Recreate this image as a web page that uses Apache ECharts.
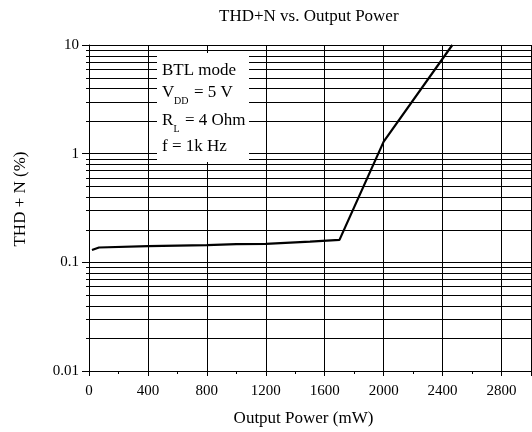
<!DOCTYPE html>
<html>
<head>
<meta charset="utf-8">
<script src="https://cdn.jsdelivr.net/npm/echarts@6/dist/echarts.min.js"></script>
<style>html,body{margin:0;padding:0;background:#fff}#c{width:532px;height:432px}</style>
</head>
<body>
<div id="c"></div>
<script>
var titleText = 'THD+N vs. Output Power';
var xName = 'Output Power (mW)';
var yName = 'THD + N (%)';
var power = [20, 68, 400, 800, 1000, 1200, 1500, 1700, 2000, 2466];
var thdn = [0.130, 0.137, 0.141, 0.144, 0.147, 0.148, 0.155, 0.161, 1.29, 10];
var yMinorGrid = [0.02,0.03,0.04,0.05,0.06,0.07,0.08,0.09,0.2,0.3,0.4,0.5,0.6,0.7,0.8,0.9,2,3,4,5,6,7,8,9];
var noteLines = ['BTL mode', 'V', 'R', 'f = 1k Hz'];

var FONT = 'Liberation Serif';
var NOTE_FONT = '17px "Liberation Serif"';
var SUB_FONT = '10px "Liberation Serif"';
var chart = echarts.init(document.getElementById('c'), null, {renderer: 'canvas'});
var option = {
  animation: false,
  backgroundColor: '#fff',
  title: {
    text: titleText, left: 214, top: 3,
    textStyle: {fontFamily: FONT, fontSize: 17, fontWeight: 'normal', color: '#000'}
  },
  grid: {left: 89, right: 1, top: 45, bottom: 59, containLabel: false},
  xAxis: {
    type: 'value', min: 0, max: 3000, interval: 400,
    name: xName, nameLocation: 'middle', nameGap: 39,
    nameTextStyle: {fontFamily: FONT, fontSize: 17, color: '#000', padding: [0, 13, 0, 0]},
    axisLine: {show: true, onZero: false, lineStyle: {color: '#000', width: 1}},
    axisTick: {show: true, length: 5, lineStyle: {color: '#000'}},
    minorTick: {show: true, splitNumber: 2, length: 3, lineStyle: {color: '#000'}},
    axisLabel: {fontFamily: FONT, fontSize: 15, color: '#000', margin: 13, showMaxLabel: false,
      formatter: function (v) { return String(v); }},
    splitLine: {show: true, lineStyle: {color: '#000', width: 1}}
  },
  yAxis: {
    type: 'log', logBase: 10, min: 0.01, max: 10,
    name: yName, nameLocation: 'middle', nameGap: 60,
    nameTextStyle: {fontFamily: FONT, fontSize: 17, color: '#000', padding: [0, 0, 0, 18]},
    axisLine: {show: true, lineStyle: {color: '#000', width: 1}},
    axisTick: {show: true, length: 7, lineStyle: {color: '#000'}},
    axisLabel: {fontFamily: FONT, fontSize: 15, color: '#000', margin: 10,
      formatter: function (v) { return String(+v.toPrecision(3)); }},
    splitLine: {show: true, lineStyle: {color: '#000', width: 1}}
  },
  series: [
    {
      type: 'custom', silent: true, clip: false, z: 1,
      data: yMinorGrid.map(function (v) { return [0, v]; }),
      renderItem: function (params, api) {
        var cs = params.coordSys;
        var y = Math.round(api.coord([0, api.value(1)])[1]) + 0.5;
        return {
          type: 'line',
          shape: {x1: cs.x - 3, y1: y, x2: cs.x + cs.width, y2: y},
          style: {stroke: '#000', lineWidth: 1}
        };
      }
    },
    {
      type: 'line', data: power.map(function (p, i) { return [p, thdn[i]]; }),
      showSymbol: false, symbol: 'none', z: 5,
      lineStyle: {color: '#000', width: 2.2}
    }
  ],
  graphic: [
    {type: 'rect', z: 10, shape: {x: 157, y: 53, width: 92, height: 109}, style: {fill: '#fff'}},
    {type: 'text', z: 11, x: 162, y: 71, style: {text: noteLines[0], font: NOTE_FONT, fill: '#000', textVerticalAlign: 'middle'}},
    {type: 'text', z: 11, x: 162, y: 93, style: {text: noteLines[1], font: NOTE_FONT, fill: '#000', textVerticalAlign: 'middle'}},
    {type: 'text', z: 11, x: 174, y: 101, style: {text: 'DD', font: SUB_FONT, fill: '#000', textVerticalAlign: 'middle'}},
    {type: 'text', z: 11, x: 194, y: 93, style: {text: '= 5 V', font: NOTE_FONT, fill: '#000', textVerticalAlign: 'middle'}},
    {type: 'text', z: 11, x: 162, y: 121, style: {text: noteLines[2], font: NOTE_FONT, fill: '#000', textVerticalAlign: 'middle'}},
    {type: 'text', z: 11, x: 173.5, y: 129, style: {text: 'L', font: SUB_FONT, fill: '#000', textVerticalAlign: 'middle'}},
    {type: 'text', z: 11, x: 185, y: 121, style: {text: '= 4 Ohm', font: NOTE_FONT, fill: '#000', textVerticalAlign: 'middle'}},
    {type: 'text', z: 11, x: 162, y: 147, style: {text: noteLines[3], font: NOTE_FONT, fill: '#000', textVerticalAlign: 'middle'}}
  ]
};
chart.setOption(option);
</script>
</body>
</html>
